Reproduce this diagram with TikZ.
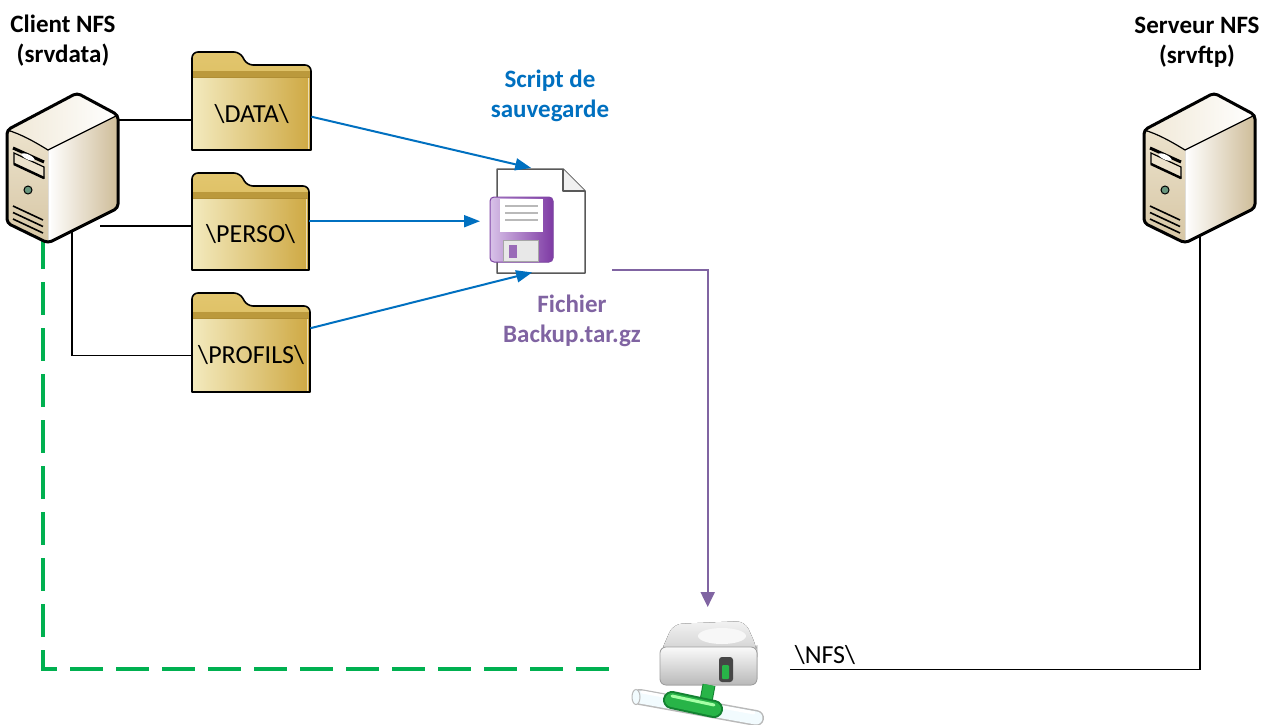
\documentclass[tikz,border=0pt]{standalone}
\usepackage{fontspec}
\setmainfont{Carlito}
\usetikzlibrary{arrows.meta,calc}

\definecolor{nfsBlue}{RGB}{0,112,192}
\definecolor{nfsPurple}{RGB}{128,100,162}
\definecolor{nfsGreen}{RGB}{0,176,80}
\definecolor{fldLight}{RGB}{243,234,190}
\definecolor{fldMid}{RGB}{230,213,152}
\definecolor{fldDark}{RGB}{206,168,66}
\definecolor{fldTab}{RGB}{212,178,78}
\definecolor{fldTabLight}{RGB}{226,198,110}
\definecolor{fldBand}{RGB}{176,142,52}
\definecolor{srvFront}{RGB}{236,226,204}
\definecolor{srvFrontDark}{RGB}{214,198,164}
\definecolor{srvSide}{RGB}{206,188,152}
\definecolor{srvTop}{RGB}{240,232,214}
\definecolor{srvLed}{RGB}{104,150,126}
\definecolor{flpLight}{RGB}{216,194,232}
\definecolor{flpDark}{RGB}{126,58,164}
\definecolor{flpEdge}{RGB}{128,70,166}
\definecolor{connGreen}{RGB}{40,180,72}
\definecolor{connDark}{RGB}{20,130,50}

\tikzset{
  wire/.style={line width=1.3pt},
  bluearrow/.style={nfsBlue, line width=2pt, -{Triangle[length=16pt,width=12pt]}},
  purplearrow/.style={nfsPurple, line width=2pt, -{Triangle[length=15pt,width=14pt]}},
  greendash/.style={nfsGreen, line width=4pt, dash pattern=on 33pt off 13pt},
  title/.style={font=\fontsize{25}{30}\selectfont\bfseries, align=center, inner sep=0pt},
  fldface/.style={inner sep=0pt, left color=fldLight, middle color=fldMid, right color=fldDark,
                  font=\fontsize{26}{30}\selectfont},
  server/.pic={
    % side face
    \fill[left color=white, right color=srvSide] (41,57) -- (111,22) -- (111,115) -- (41,150) -- cycle;
    % front face
    \fill[top color=srvFront, bottom color=srvFrontDark] (0,37) .. controls (14,41) and (28,49) .. (41,57) -- (41,150) -- (0,130) -- cycle;
    % top face
    \fill[left color=srvTop, right color=white] (0,37) -- (70,0) -- (111,22) -- (41,57) .. controls (28,49) and (14,41) .. (0,37) -- cycle;
    % bright vertical edge
    \draw[white, line width=2.5pt] (43,61) -- (43,146);
    % drive bays
    \draw[line width=1.2pt, fill=srvFront] (7,60) -- (37,74) -- (37,85) -- (7,71) -- cycle;
    \draw[line width=3pt] (6,55) -- (37,69);
    \fill[white, rotate around={-25:(21,64)}] (21,64) ellipse [x radius=7, y radius=2.5];
    \draw[line width=2.5pt] (7,71) -- (37,85);
    % power light
    \filldraw[fill=srvLed, line width=1pt] (21,97) circle [radius=4];
    % vents
    \foreach \v in {113,119.5,126}
      \draw[line width=1.6pt] (6,\v) -- (36,\v+14);
    % outline
    \draw[line width=3pt, line join=round, rounded corners=4pt]
      (0,37) -- (70,0) -- (111,22) -- (111,115) -- (41,150) -- (0,130) -- cycle;
    \draw[line width=1.2pt] (0,37) .. controls (14,41) and (28,49) .. (41,57) -- (111,22);
  }
}

% folder: name, left x, tab top y, width, height, label
\newcommand\drawfolder[6]{%
  \begin{scope}[shift={(#2,#3)}]
    \fill[top color=fldTabLight, bottom color=fldTab]
      (0,#5) [rounded corners=6pt] -- (0,0) -- (48,0) -- (55,13) -- ({#4},13) [sharp corners] -- ({#4},#5) -- cycle;
    \fill[fldBand!70!fldTab] (0,19) rectangle ({#4},25);
  \end{scope}
  \node[fldface, minimum width=#4, minimum height={#5-25}, anchor=north west] (#1) at ({#2},{#3+25}) {#6};
  \begin{scope}[shift={(#2,#3)}]
    \draw[fldBand, line width=1pt] (0,25) -- ({#4},25);
    \draw[white!60!fldDark, line width=1.5pt] ({#4-2.5},26) -- ({#4-2.5},{#5-1});
    \draw[line width=1.6pt, line join=round]
      (0,#5) [rounded corners=6pt] -- (0,0) -- (48,0) -- (55,13) -- ({#4},13) [sharp corners] -- ({#4},#5) -- cycle;
  \end{scope}
}

\begin{document}
\begin{tikzpicture}[x=1pt,y=-1pt]
  \useasboundingbox (0,0) rectangle (1277,724);
  \fill[white] (0,0) rectangle (1277,724);

  % servers (frames for reference points)
  \node[minimum width=111, minimum height=150, anchor=north west, inner sep=0pt] (srvL) at (7,93) {};
  \node[minimum width=111, minimum height=150, anchor=north west, inner sep=0pt] (srvR) at (1144,93) {};

  % wire ends hidden behind the servers
  \coordinate (wData) at (100,120);
  \coordinate (wPerso) at (100,226);
  \coordinate (wProf) at (72,230);
  \coordinate (gStart) at (43,236);
  \coordinate (rEnd) at (1200,232);

  % folders
  \drawfolder{dataF}{192}{52}{119}{98}{\textbackslash DATA\textbackslash}
  \drawfolder{persoF}{192}{173}{117}{97}{\textbackslash PERSO\textbackslash}
  \drawfolder{profF}{192}{293}{118}{99}{\textbackslash PROFILS\textbackslash}

  % backup file and NFS share
  \node[minimum width=88, minimum height=104, anchor=north west, inner sep=0pt] (file) at (497,169) {};
  \node[minimum width=161, minimum height=121, anchor=north west, inner sep=0pt] (drive) at (627,603) {};

  % wiring from the client to its folders
  \draw[wire] (wData) -- (wData -| dataF.west);
  \draw[wire] (wPerso) -- (wPerso -| persoF.west);
  \draw[wire] (wProf) |- (profF.west);

  % NFS mount links
  \draw[greendash] (gStart) |- ($(drive.west)+(-5,5)$);
  \draw[wire] ($(drive.east)+(2,5.5)$) -| (rEnd);

  % server drawings
  \pic at (srvL.north west) {server};
  \pic at (srvR.north west) {server};

  % document page
  \draw[gray!70!black, line width=1.5pt, fill=white, line join=round]
    (497,169) -- (563,169) -- (585,191) -- (585,273) -- (497,273) -- cycle;
  \draw[gray!70!black, line width=1.2pt, fill=gray!12, line join=round]
    (563,169) -- (563,191) -- (585,191);
  % floppy disk
  \fill[left color=flpLight, right color=flpDark, rounded corners=4pt] (490,197) rectangle (553,262);
  \draw[flpEdge, line width=1pt, rounded corners=4pt] (490,197) rectangle (553,262);
  \fill[white] (500,199) rectangle (543,232);
  \foreach \v in {206,213,220}
    \draw[gray!55, line width=1.2pt] (505,\v) -- (538,\v);
  \draw[gray!70, line width=1pt, fill=gray!18] (503,240) rectangle (538,261);
  \fill[flpEdge!80] (509,245) rectangle (517,258);

  % drive with network pipe
  \draw[line width=16pt, line cap=round, gray!55] (640,697) -- (756,718);
  \draw[line width=13pt, line cap=round, cyan!5!white] (640,697) -- (756,718);
  \draw[line width=3pt, line cap=round, white] (642,692) -- (754,713);
  \draw[gray!55, line width=1pt, fill=cyan!5!white] (636,697) ellipse [x radius=4, y radius=7.5];
  \fill[top color=gray!10, bottom color=gray!38, rounded corners=9pt]
    (660,654) -- (673,624) -- (745,621) -- (757,648) -- (757,654) -- cycle;
  \fill[white!94!gray] (722,636) ellipse [x radius=24, y radius=8];
  \fill[top color=white!96!gray, bottom color=gray!55, rounded corners=6pt] (660,647) rectangle (757,685);
  \draw[gray!75, line width=0.8pt, rounded corners=6pt] (660,647) rectangle (757,685);
  \fill[gray!55!black, rounded corners=3pt] (719,657) rectangle (733,682);
  \fill[connGreen, rounded corners=1pt] (722,665) rectangle (729,679);
  \draw[line width=13pt, connDark] (709,685) -- (706,701);
  \draw[line width=11pt, connGreen] (709,685) -- (706,701);
  \draw[line width=18pt, line cap=round, connDark] (672,700) -- (714,709);
  \draw[line width=14pt, line cap=round, connGreen] (672,700) -- (714,709);
  \draw[line width=3pt, line cap=round, green!35!white] (672,696) -- (714,705);

  % copy flow
  \draw[bluearrow] ($(dataF.east)+(0,3)$) -- ($(file.north)+(-10,-1)$);
  \draw[bluearrow] ($(persoF.east)+(0,-13)$) -- ($(file.west)+(-17,0)$);
  \draw[bluearrow] ($(profF.east)+(0,-27)$) -- ($(file.south)+(-9,-1)$);
  \draw[purplearrow] ($(file.south east)+(27,-3)$) -| ($(drive.north)+(0,4)$);

  % labels
  \node[title, anchor=north] (lblClient) at (63,15) {Client NFS\\(srvdata)};
  \node[title, anchor=north] (lblServer) at (1197,17) {Serveur NFS\\(srvftp)};
  \node[title, anchor=north, text=nfsBlue] (lblScript) at (550,70) {Script de\\sauvegarde};
  \node[title, anchor=north, text=nfsPurple] (lblFile) at (572,295) {Fichier\\Backup.tar.gz};
  \node[font=\fontsize{26}{30}\selectfont, anchor=base, inner sep=0pt] (lblNfs) at (825,663) {\textbackslash NFS\textbackslash};
\end{tikzpicture}
\end{document}
